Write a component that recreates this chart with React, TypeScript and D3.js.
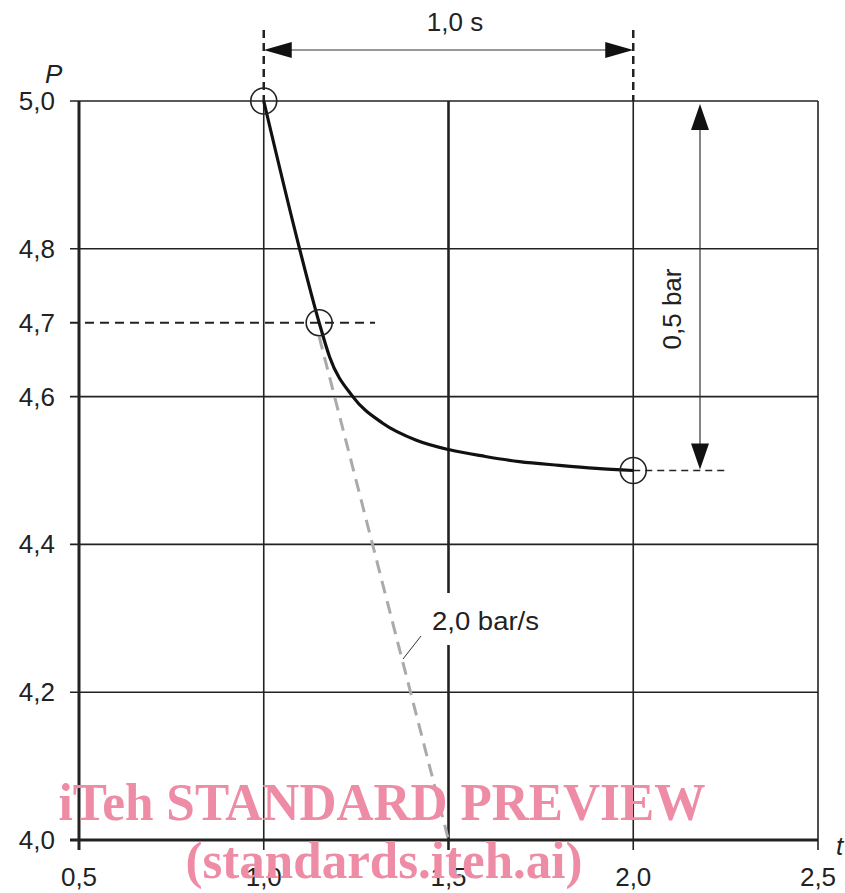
import React from 'react';
import * as d3 from 'd3';

const width = 845;
const height = 893;

// axis ticks
const xTicks = [0.5, 1.0, 1.5, 2.0, 2.5];
const yGrid = [5.0, 4.8, 4.6, 4.4, 4.2, 4.0];
const yLabels = [5.0, 4.8, 4.7, 4.6, 4.4, 4.2, 4.0];

// pressure curve
const curveT = [1.0, 1.097, 1.15, 1.178, 1.241, 1.322, 1.413, 1.503, 1.6, 1.692, 1.8, 1.9, 2.0];
const curveP = [5.0, 4.8, 4.7, 4.654, 4.6, 4.564, 4.541, 4.528, 4.519, 4.512, 4.507, 4.503, 4.5];

// circled points
const markT = [1.0, 1.15, 2.0];
const markP = [5.0, 4.7, 4.5];

// 2,0 bar/s tangent
const rateT = [1.15, 1.5];
const rateP = [4.7, 4.0];

const fmt = (v: number) => d3.format('.1f')(v).replace('.', ',');

const x = d3.scaleLinear().domain([0.5, 2.5]).range([79, 818]);
const y = d3.scaleLinear().domain([4.0, 5.0]).range([840, 101]);

const font = 'Liberation Sans, Arial, sans-serif';

export default function App() {
  const line = d3.line<number>()
    .x((d, i) => x(curveT[i]))
    .y((d) => y(d))
    .curve(d3.curveMonotoneX);

  const x1 = x(1.0);
  const x2 = x(2.0);
  const arrowY = 50;
  const vx = 700;
  const vTop = y(5.0) + 3;
  const vBot = y(4.5) - 1;

  return (
    <svg width={width} height={height} style={{ position: 'absolute', left: 0, top: 0, background: '#fff' }}>
      {/* horizontal grid */}
      {yGrid.map((v) => (
        <line key={'h' + v} x1={70} x2={818} y1={y(v)} y2={y(v)}
          stroke="#222" strokeWidth={v === 4.0 ? 3 : 1.6} />
      ))}
      {/* vertical grid */}
      {xTicks.map((v) => (
        <line key={'v' + v} x1={x(v)} x2={x(v)} y1={y(5.0)} y2={850}
          stroke="#222" strokeWidth={v === 0.5 ? 3 : v === 1.5 ? 2.6 : 1.6} />
      ))}
      {/* dashed extension lines */}
      <line x1={x1} x2={x1} y1={30} y2={y(5.0)} stroke="#222" strokeWidth={2.5} strokeDasharray="8,5" />
      <line x1={x2} x2={x2} y1={30} y2={y(5.0)} stroke="#222" strokeWidth={2.5} strokeDasharray="8,5" />
      <line x1={70} x2={375} y1={y(4.7)} y2={y(4.7)} stroke="#222" strokeWidth={2} strokeDasharray="9,6" />
      <line x1={x(2.0)} x2={725} y1={y(4.5)} y2={y(4.5)} stroke="#222" strokeWidth={1.4} strokeDasharray="7,5" />

      {/* 1,0 s dimension */}
      <line x1={x1 + 20} x2={x2 - 20} y1={arrowY} y2={arrowY} stroke="#333" strokeWidth={1.2} />
      <path d={`M${x1},${arrowY} L${x1 + 28},${arrowY - 8} L${x1 + 28},${arrowY + 8} Z`} fill="#111" />
      <path d={`M${x2},${arrowY} L${x2 - 28},${arrowY - 8} L${x2 - 28},${arrowY + 8} Z`} fill="#111" />
      <text x={455} y={31} textAnchor="middle" fontFamily={font} fontSize={26} fill="#222">1,0 s</text>

      {/* 0,5 bar dimension */}
      <line x1={vx} x2={vx} y1={vTop + 20} y2={vBot - 20} stroke="#333" strokeWidth={1.2} />
      <path d={`M${vx},${vTop} L${vx - 9},${vTop + 26} L${vx + 9},${vTop + 26} Z`} fill="#111" />
      <path d={`M${vx},${vBot} L${vx - 9},${vBot - 26} L${vx + 9},${vBot - 26} Z`} fill="#111" />
      <text transform={`translate(681,309) rotate(-90)`} textAnchor="middle" fontFamily={font} fontSize={26} fill="#222">0,5 bar</text>

      {/* tangent */}
      <line x1={x(rateT[0])} y1={y(rateP[0]) + 14} x2={x(rateT[1])} y2={y(rateP[1])}
        stroke="#aaa" strokeWidth={3} strokeDasharray="13,8" />
      <line x1={403} y1={659} x2={421} y2={636} stroke="#333" strokeWidth={1} />
      <rect x={430} y={593} width={114} height={52} fill="#fff" />
      <text x={432} y={630} fontFamily={font} fontSize={26} fill="#222" textLength={107} lengthAdjust="spacingAndGlyphs">2,0 bar/s</text>

      {/* curve */}
      <path d={line(curveP) || ''} fill="none" stroke="#111" strokeWidth={3.2} />
      {markT.map((t, i) => (
        <circle key={'c' + i} cx={x(t)} cy={y(markP[i])} r={13} fill="none" stroke="#222" strokeWidth={1.6} />
      ))}

      {/* tick labels */}
      {yLabels.map((v) => (
        <text key={'yl' + v} x={55} y={y(v) + 9} textAnchor="end" fontFamily={font} fontSize={26} fill="#222">{fmt(v)}</text>
      ))}
      {xTicks.map((v) => (
        <text key={'xl' + v} x={x(v)} y={886} textAnchor="middle" fontFamily={font} fontSize={26} fill="#222">{fmt(v)}</text>
      ))}
      <text x={45} y={83} fontFamily={font} fontSize={26} fontStyle="italic" fill="#222">P</text>
      <text x={836} y={855} fontFamily={font} fontSize={26} fontStyle="italic" fill="#222">t</text>

      {/* watermark */}
      <text x={382} y={820} textAnchor="middle" fontFamily="Liberation Serif, Times New Roman, serif" fontWeight="bold"
        fontSize={53} fill="#ee8ca6" textLength={647} lengthAdjust="spacingAndGlyphs">iTeh STANDARD PREVIEW</text>
      <text x={384} y={878} textAnchor="middle" fontFamily="Liberation Serif, Times New Roman, serif" fontWeight="bold"
        fontSize={53} fill="#ee8ca6" textLength={397} lengthAdjust="spacingAndGlyphs">(standards.iteh.ai)</text>
    </svg>
  );
}
